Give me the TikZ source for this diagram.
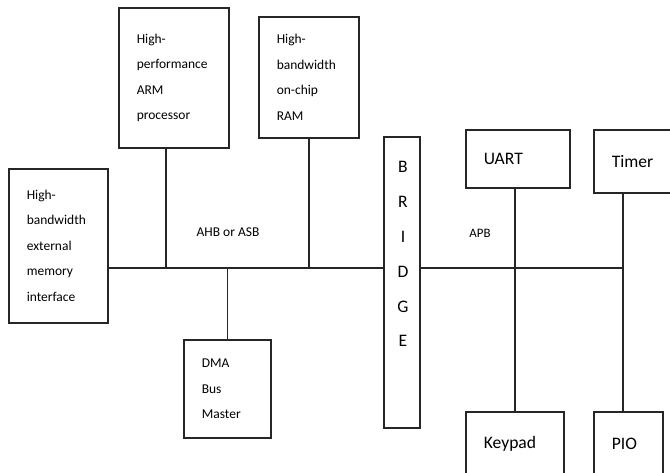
\documentclass[tikz,border=0pt]{standalone}
\usepackage{fontspec}
\setmainfont{Carlito}
\usetikzlibrary{positioning, calc}

\begin{document}
\begin{tikzpicture}[x=0.03cm, y=-0.03cm, line width=1.4pt, draw=black!85,
    box/.style={draw, rectangle, anchor=north west, align=left, inner xsep=0.54cm, inner ysep=0pt,
                font=\fontsize{11.5}{21.8}\selectfont},
    per/.style={box, font=\fontsize{15}{18}\selectfont},
    lbl/.style={font=\fontsize{11.5}{14}\selectfont}]
    \clip (0,0) rectangle (670,472);
    % AHB side
    \node[box, text width=1.89cm, minimum width=2.97cm, minimum height=4.62cm] (ext) at (8,168) {High-\\bandwidth\\external\\memory\\interface};
    \node[box, text width=2.22cm, minimum width=3.3cm, minimum height=4.2cm] (arm) at (118,7) {High-\\performance\\ARM\\processor};
    \node[box, text width=1.92cm, minimum width=3.0cm, minimum height=3.63cm] (ram) at (258,16) {High-\\bandwidth\\on-chip\\RAM};
    \node[box, text width=1.53cm, minimum width=2.61cm, minimum height=2.94cm] (dma) at (183,339) {DMA\\Bus\\Master};
    % bridge
    \node[draw, rectangle, anchor=north west, minimum width=1.08cm, minimum height=8.73cm, inner sep=0pt] (bridge) at (383,136) {};
    \node[font=\fontsize{15}{29.8}\selectfont, align=center] (brtxt) at (403,254) {B\\R\\I\\D\\G\\E};
    % APB side
    \node[per, text width=2.04cm, minimum width=3.12cm, minimum height=1.74cm] (uart) at (465,129) {UART};
    \node[per, text width=1.62cm, minimum width=2.7cm, minimum height=1.89cm] (timer) at (593,129) {Timer};
    \node[per, text width=1.86cm, minimum width=2.94cm, minimum height=1.92cm] (keypad) at (465,411) {Keypad};
    \node[per, text width=0.99cm, minimum width=2.07cm, minimum height=1.92cm] (pio) at (593,411) {PIO};
    % buses
    \coordinate (bus) at (0,268);
    \coordinate (j1) at (166,268);
    \coordinate (j2) at (623,268);
    \draw (ext.east |- bus) -- (bridge.west |- bus);
    \draw (arm.south -| j1) -- (j1);
    \draw (ram.south) -- (ram.south |- bus);
    \draw (dma.north) -- (dma.north |- bus);
    \draw (bridge.east |- bus) -- (j2);
    \draw (keypad.north |- uart.south) -- (keypad.north);
    \draw (j2 |- timer.south) -- (j2 |- pio.north);
    \node[lbl] (ahb) at (228,232) {AHB or ASB};
    \node[lbl, font=\fontsize{11}{13}\selectfont] (apb) at (480,233) {APB};
\end{tikzpicture}
\end{document}
